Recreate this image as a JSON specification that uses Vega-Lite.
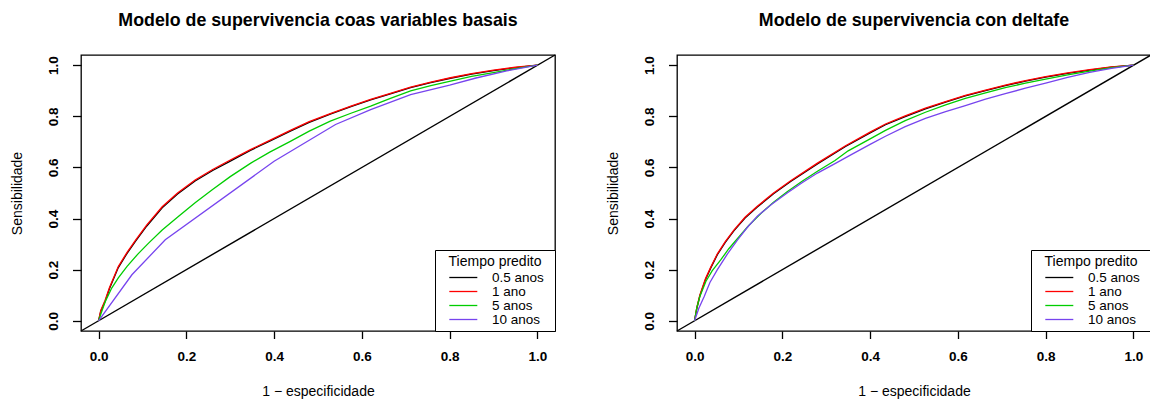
{
  "$schema": "https://vega.github.io/schema/vega-lite/v6.json",
  "background": "white",
  "padding": {"left": 9, "top": 11, "right": 0, "bottom": 0},
  "config": {
    "view": {"stroke": "black", "strokeWidth": 1.3},
    "font": "Liberation Sans",
    "title": {"font": "Liberation Sans", "fontSize": 17.8, "fontWeight": "bold", "color": "black", "offset": 22.5, "anchor": "middle"},
    "axis": {"domain": false, "grid": false, "tickColor": "black", "tickWidth": 1.3,
      "labelFont": "Liberation Sans", "labelFontSize": 13.5, "labelFontWeight": "bold", "labelColor": "black",
      "titleFont": "Liberation Sans", "titleFontSize": 14, "titleFontWeight": "normal", "titleColor": "black",
      "labelFlush": false, "labelOverlap": false},
    "axisX": {"tickSize": 7.5, "labelPadding": 10.5, "titlePadding": 21.5},
    "axisY": {"tickSize": 8.5, "labelAngle": -90, "labelPadding": 12, "titlePadding": 22},
    "legend": {"orient": "bottom-right", "offset": 0, "padding": 5, "strokeColor": "black", "fillColor": "white",
      "symbolType": "M-1,0M0.277,0H4.585M15.28,0", "symbolSize": 169, "symbolStrokeWidth": 1.3, "labelOffset": 37,
      "rowPadding": 0, "titlePadding": 1, "titleAnchor": "middle", "titleFont": "Liberation Sans", "titleFontSize": 14,
      "titleFontWeight": "normal", "titleColor": "black", "labelFont": "Liberation Sans", "labelFontSize": 13.5, "labelColor": "black", "cornerRadius": 0}
  },
  "datasets": {
    "diag": [{"x": -0.04, "y": -0.04}, {"x": 1.04, "y": 1.04}],
    "roc": [
      {"panel": "A", "tiempo": "0.5 anos", "x": 0, "y": 0},
      {"panel": "A", "tiempo": "0.5 anos", "x": 0.005, "y": 0.036},
      {"panel": "A", "tiempo": "0.5 anos", "x": 0.015, "y": 0.076},
      {"panel": "A", "tiempo": "0.5 anos", "x": 0.025, "y": 0.126},
      {"panel": "A", "tiempo": "0.5 anos", "x": 0.045, "y": 0.208},
      {"panel": "A", "tiempo": "0.5 anos", "x": 0.065, "y": 0.264},
      {"panel": "A", "tiempo": "0.5 anos", "x": 0.084, "y": 0.311},
      {"panel": "A", "tiempo": "0.5 anos", "x": 0.11, "y": 0.371},
      {"panel": "A", "tiempo": "0.5 anos", "x": 0.145, "y": 0.442},
      {"panel": "A", "tiempo": "0.5 anos", "x": 0.18, "y": 0.496},
      {"panel": "A", "tiempo": "0.5 anos", "x": 0.22, "y": 0.547},
      {"panel": "A", "tiempo": "0.5 anos", "x": 0.26, "y": 0.588},
      {"panel": "A", "tiempo": "0.5 anos", "x": 0.297, "y": 0.622},
      {"panel": "A", "tiempo": "0.5 anos", "x": 0.346, "y": 0.667},
      {"panel": "A", "tiempo": "0.5 anos", "x": 0.39, "y": 0.703},
      {"panel": "A", "tiempo": "0.5 anos", "x": 0.437, "y": 0.742},
      {"panel": "A", "tiempo": "0.5 anos", "x": 0.48, "y": 0.776},
      {"panel": "A", "tiempo": "0.5 anos", "x": 0.528, "y": 0.809},
      {"panel": "A", "tiempo": "0.5 anos", "x": 0.575, "y": 0.838},
      {"panel": "A", "tiempo": "0.5 anos", "x": 0.62, "y": 0.864},
      {"panel": "A", "tiempo": "0.5 anos", "x": 0.665, "y": 0.888},
      {"panel": "A", "tiempo": "0.5 anos", "x": 0.711, "y": 0.912},
      {"panel": "A", "tiempo": "0.5 anos", "x": 0.757, "y": 0.932},
      {"panel": "A", "tiempo": "0.5 anos", "x": 0.802, "y": 0.949},
      {"panel": "A", "tiempo": "0.5 anos", "x": 0.85, "y": 0.965},
      {"panel": "A", "tiempo": "0.5 anos", "x": 0.9, "y": 0.979},
      {"panel": "A", "tiempo": "0.5 anos", "x": 0.95, "y": 0.991},
      {"panel": "A", "tiempo": "0.5 anos", "x": 1, "y": 1},

      {"panel": "A", "tiempo": "1 ano", "x": 0, "y": 0},
      {"panel": "A", "tiempo": "1 ano", "x": 0.005, "y": 0.04},
      {"panel": "A", "tiempo": "1 ano", "x": 0.015, "y": 0.08},
      {"panel": "A", "tiempo": "1 ano", "x": 0.025, "y": 0.13},
      {"panel": "A", "tiempo": "1 ano", "x": 0.045, "y": 0.212},
      {"panel": "A", "tiempo": "1 ano", "x": 0.065, "y": 0.268},
      {"panel": "A", "tiempo": "1 ano", "x": 0.084, "y": 0.315},
      {"panel": "A", "tiempo": "1 ano", "x": 0.11, "y": 0.375},
      {"panel": "A", "tiempo": "1 ano", "x": 0.145, "y": 0.446},
      {"panel": "A", "tiempo": "1 ano", "x": 0.18, "y": 0.5},
      {"panel": "A", "tiempo": "1 ano", "x": 0.22, "y": 0.551},
      {"panel": "A", "tiempo": "1 ano", "x": 0.26, "y": 0.592},
      {"panel": "A", "tiempo": "1 ano", "x": 0.297, "y": 0.626},
      {"panel": "A", "tiempo": "1 ano", "x": 0.346, "y": 0.67},
      {"panel": "A", "tiempo": "1 ano", "x": 0.39, "y": 0.706},
      {"panel": "A", "tiempo": "1 ano", "x": 0.437, "y": 0.745},
      {"panel": "A", "tiempo": "1 ano", "x": 0.48, "y": 0.779},
      {"panel": "A", "tiempo": "1 ano", "x": 0.528, "y": 0.811},
      {"panel": "A", "tiempo": "1 ano", "x": 0.575, "y": 0.84},
      {"panel": "A", "tiempo": "1 ano", "x": 0.62, "y": 0.866},
      {"panel": "A", "tiempo": "1 ano", "x": 0.665, "y": 0.89},
      {"panel": "A", "tiempo": "1 ano", "x": 0.711, "y": 0.914},
      {"panel": "A", "tiempo": "1 ano", "x": 0.757, "y": 0.934},
      {"panel": "A", "tiempo": "1 ano", "x": 0.802, "y": 0.951},
      {"panel": "A", "tiempo": "1 ano", "x": 0.85, "y": 0.967},
      {"panel": "A", "tiempo": "1 ano", "x": 0.9, "y": 0.981},
      {"panel": "A", "tiempo": "1 ano", "x": 0.95, "y": 0.992},
      {"panel": "A", "tiempo": "1 ano", "x": 1, "y": 1},

      {"panel": "A", "tiempo": "5 anos", "x": 0, "y": 0},
      {"panel": "A", "tiempo": "5 anos", "x": 0.008, "y": 0.04},
      {"panel": "A", "tiempo": "5 anos", "x": 0.016, "y": 0.078},
      {"panel": "A", "tiempo": "5 anos", "x": 0.03, "y": 0.128},
      {"panel": "A", "tiempo": "5 anos", "x": 0.045, "y": 0.168},
      {"panel": "A", "tiempo": "5 anos", "x": 0.065, "y": 0.213},
      {"panel": "A", "tiempo": "5 anos", "x": 0.09, "y": 0.262},
      {"panel": "A", "tiempo": "5 anos", "x": 0.114, "y": 0.304},
      {"panel": "A", "tiempo": "5 anos", "x": 0.145, "y": 0.355},
      {"panel": "A", "tiempo": "5 anos", "x": 0.1825, "y": 0.409},
      {"panel": "A", "tiempo": "5 anos", "x": 0.22, "y": 0.462},
      {"panel": "A", "tiempo": "5 anos", "x": 0.259, "y": 0.513},
      {"panel": "A", "tiempo": "5 anos", "x": 0.3, "y": 0.564},
      {"panel": "A", "tiempo": "5 anos", "x": 0.346, "y": 0.616},
      {"panel": "A", "tiempo": "5 anos", "x": 0.39, "y": 0.66},
      {"panel": "A", "tiempo": "5 anos", "x": 0.437, "y": 0.702},
      {"panel": "A", "tiempo": "5 anos", "x": 0.48, "y": 0.742},
      {"panel": "A", "tiempo": "5 anos", "x": 0.528, "y": 0.781},
      {"panel": "A", "tiempo": "5 anos", "x": 0.575, "y": 0.812},
      {"panel": "A", "tiempo": "5 anos", "x": 0.62, "y": 0.84},
      {"panel": "A", "tiempo": "5 anos", "x": 0.665, "y": 0.87},
      {"panel": "A", "tiempo": "5 anos", "x": 0.711, "y": 0.9},
      {"panel": "A", "tiempo": "5 anos", "x": 0.757, "y": 0.92},
      {"panel": "A", "tiempo": "5 anos", "x": 0.802, "y": 0.938},
      {"panel": "A", "tiempo": "5 anos", "x": 0.85, "y": 0.956},
      {"panel": "A", "tiempo": "5 anos", "x": 0.916, "y": 0.976},
      {"panel": "A", "tiempo": "5 anos", "x": 0.96, "y": 0.99},
      {"panel": "A", "tiempo": "5 anos", "x": 1, "y": 1},

      {"panel": "A", "tiempo": "10 anos", "x": 0, "y": 0},
      {"panel": "A", "tiempo": "10 anos", "x": 0.076, "y": 0.18},
      {"panel": "A", "tiempo": "10 anos", "x": 0.152, "y": 0.317},
      {"panel": "A", "tiempo": "10 anos", "x": 0.4, "y": 0.624},
      {"panel": "A", "tiempo": "10 anos", "x": 0.54, "y": 0.768},
      {"panel": "A", "tiempo": "10 anos", "x": 0.62, "y": 0.826},
      {"panel": "A", "tiempo": "10 anos", "x": 0.711, "y": 0.885},
      {"panel": "A", "tiempo": "10 anos", "x": 0.8, "y": 0.922},
      {"panel": "A", "tiempo": "10 anos", "x": 0.86, "y": 0.95},
      {"panel": "A", "tiempo": "10 anos", "x": 0.93, "y": 0.978},
      {"panel": "A", "tiempo": "10 anos", "x": 1, "y": 1},

      {"panel": "B", "tiempo": "0.5 anos", "x": 0, "y": 0},
      {"panel": "B", "tiempo": "0.5 anos", "x": 0.005, "y": 0.047},
      {"panel": "B", "tiempo": "0.5 anos", "x": 0.012, "y": 0.097},
      {"panel": "B", "tiempo": "0.5 anos", "x": 0.025, "y": 0.162},
      {"panel": "B", "tiempo": "0.5 anos", "x": 0.037, "y": 0.207},
      {"panel": "B", "tiempo": "0.5 anos", "x": 0.052, "y": 0.259},
      {"panel": "B", "tiempo": "0.5 anos", "x": 0.07, "y": 0.307},
      {"panel": "B", "tiempo": "0.5 anos", "x": 0.09, "y": 0.353},
      {"panel": "B", "tiempo": "0.5 anos", "x": 0.115, "y": 0.402},
      {"panel": "B", "tiempo": "0.5 anos", "x": 0.143, "y": 0.445},
      {"panel": "B", "tiempo": "0.5 anos", "x": 0.18, "y": 0.497},
      {"panel": "B", "tiempo": "0.5 anos", "x": 0.219, "y": 0.545},
      {"panel": "B", "tiempo": "0.5 anos", "x": 0.28, "y": 0.614},
      {"panel": "B", "tiempo": "0.5 anos", "x": 0.344, "y": 0.682},
      {"panel": "B", "tiempo": "0.5 anos", "x": 0.4, "y": 0.735},
      {"panel": "B", "tiempo": "0.5 anos", "x": 0.435, "y": 0.767},
      {"panel": "B", "tiempo": "0.5 anos", "x": 0.48, "y": 0.799},
      {"panel": "B", "tiempo": "0.5 anos", "x": 0.526, "y": 0.829},
      {"panel": "B", "tiempo": "0.5 anos", "x": 0.572, "y": 0.856},
      {"panel": "B", "tiempo": "0.5 anos", "x": 0.617, "y": 0.88},
      {"panel": "B", "tiempo": "0.5 anos", "x": 0.663, "y": 0.901},
      {"panel": "B", "tiempo": "0.5 anos", "x": 0.708, "y": 0.92},
      {"panel": "B", "tiempo": "0.5 anos", "x": 0.754, "y": 0.938},
      {"panel": "B", "tiempo": "0.5 anos", "x": 0.8, "y": 0.953},
      {"panel": "B", "tiempo": "0.5 anos", "x": 0.85, "y": 0.968},
      {"panel": "B", "tiempo": "0.5 anos", "x": 0.9, "y": 0.981},
      {"panel": "B", "tiempo": "0.5 anos", "x": 0.95, "y": 0.992},
      {"panel": "B", "tiempo": "0.5 anos", "x": 1, "y": 1},

      {"panel": "B", "tiempo": "1 ano", "x": 0, "y": 0},
      {"panel": "B", "tiempo": "1 ano", "x": 0.005, "y": 0.05},
      {"panel": "B", "tiempo": "1 ano", "x": 0.012, "y": 0.1},
      {"panel": "B", "tiempo": "1 ano", "x": 0.025, "y": 0.165},
      {"panel": "B", "tiempo": "1 ano", "x": 0.037, "y": 0.21},
      {"panel": "B", "tiempo": "1 ano", "x": 0.052, "y": 0.262},
      {"panel": "B", "tiempo": "1 ano", "x": 0.07, "y": 0.31},
      {"panel": "B", "tiempo": "1 ano", "x": 0.09, "y": 0.356},
      {"panel": "B", "tiempo": "1 ano", "x": 0.115, "y": 0.405},
      {"panel": "B", "tiempo": "1 ano", "x": 0.143, "y": 0.448},
      {"panel": "B", "tiempo": "1 ano", "x": 0.18, "y": 0.5},
      {"panel": "B", "tiempo": "1 ano", "x": 0.219, "y": 0.548},
      {"panel": "B", "tiempo": "1 ano", "x": 0.28, "y": 0.617},
      {"panel": "B", "tiempo": "1 ano", "x": 0.344, "y": 0.685},
      {"panel": "B", "tiempo": "1 ano", "x": 0.4, "y": 0.738},
      {"panel": "B", "tiempo": "1 ano", "x": 0.435, "y": 0.77},
      {"panel": "B", "tiempo": "1 ano", "x": 0.48, "y": 0.802},
      {"panel": "B", "tiempo": "1 ano", "x": 0.526, "y": 0.832},
      {"panel": "B", "tiempo": "1 ano", "x": 0.572, "y": 0.858},
      {"panel": "B", "tiempo": "1 ano", "x": 0.617, "y": 0.882},
      {"panel": "B", "tiempo": "1 ano", "x": 0.663, "y": 0.903},
      {"panel": "B", "tiempo": "1 ano", "x": 0.708, "y": 0.922},
      {"panel": "B", "tiempo": "1 ano", "x": 0.754, "y": 0.94},
      {"panel": "B", "tiempo": "1 ano", "x": 0.8, "y": 0.955},
      {"panel": "B", "tiempo": "1 ano", "x": 0.85, "y": 0.97},
      {"panel": "B", "tiempo": "1 ano", "x": 0.9, "y": 0.983},
      {"panel": "B", "tiempo": "1 ano", "x": 0.95, "y": 0.993},
      {"panel": "B", "tiempo": "1 ano", "x": 1, "y": 1},

      {"panel": "B", "tiempo": "5 anos", "x": 0, "y": 0},
      {"panel": "B", "tiempo": "5 anos", "x": 0.005, "y": 0.05},
      {"panel": "B", "tiempo": "5 anos", "x": 0.012, "y": 0.095},
      {"panel": "B", "tiempo": "5 anos", "x": 0.026, "y": 0.155},
      {"panel": "B", "tiempo": "5 anos", "x": 0.04, "y": 0.195},
      {"panel": "B", "tiempo": "5 anos", "x": 0.06, "y": 0.239},
      {"panel": "B", "tiempo": "5 anos", "x": 0.078, "y": 0.282},
      {"panel": "B", "tiempo": "5 anos", "x": 0.098, "y": 0.322},
      {"panel": "B", "tiempo": "5 anos", "x": 0.123, "y": 0.372},
      {"panel": "B", "tiempo": "5 anos", "x": 0.151, "y": 0.42},
      {"panel": "B", "tiempo": "5 anos", "x": 0.18, "y": 0.464},
      {"panel": "B", "tiempo": "5 anos", "x": 0.211, "y": 0.505},
      {"panel": "B", "tiempo": "5 anos", "x": 0.245, "y": 0.546},
      {"panel": "B", "tiempo": "5 anos", "x": 0.28, "y": 0.585},
      {"panel": "B", "tiempo": "5 anos", "x": 0.32, "y": 0.627},
      {"panel": "B", "tiempo": "5 anos", "x": 0.35, "y": 0.665},
      {"panel": "B", "tiempo": "5 anos", "x": 0.4, "y": 0.712},
      {"panel": "B", "tiempo": "5 anos", "x": 0.435, "y": 0.745},
      {"panel": "B", "tiempo": "5 anos", "x": 0.48, "y": 0.783},
      {"panel": "B", "tiempo": "5 anos", "x": 0.526, "y": 0.816},
      {"panel": "B", "tiempo": "5 anos", "x": 0.572, "y": 0.845},
      {"panel": "B", "tiempo": "5 anos", "x": 0.617, "y": 0.87},
      {"panel": "B", "tiempo": "5 anos", "x": 0.663, "y": 0.892},
      {"panel": "B", "tiempo": "5 anos", "x": 0.708, "y": 0.912},
      {"panel": "B", "tiempo": "5 anos", "x": 0.754, "y": 0.93},
      {"panel": "B", "tiempo": "5 anos", "x": 0.8, "y": 0.946},
      {"panel": "B", "tiempo": "5 anos", "x": 0.85, "y": 0.962},
      {"panel": "B", "tiempo": "5 anos", "x": 0.9, "y": 0.977},
      {"panel": "B", "tiempo": "5 anos", "x": 0.95, "y": 0.991},
      {"panel": "B", "tiempo": "5 anos", "x": 1, "y": 1},

      {"panel": "B", "tiempo": "10 anos", "x": 0, "y": 0},
      {"panel": "B", "tiempo": "10 anos", "x": 0.01, "y": 0.05},
      {"panel": "B", "tiempo": "10 anos", "x": 0.022, "y": 0.095},
      {"panel": "B", "tiempo": "10 anos", "x": 0.035, "y": 0.15},
      {"panel": "B", "tiempo": "10 anos", "x": 0.052, "y": 0.2},
      {"panel": "B", "tiempo": "10 anos", "x": 0.075, "y": 0.262},
      {"panel": "B", "tiempo": "10 anos", "x": 0.098, "y": 0.317},
      {"panel": "B", "tiempo": "10 anos", "x": 0.12, "y": 0.365},
      {"panel": "B", "tiempo": "10 anos", "x": 0.143, "y": 0.409},
      {"panel": "B", "tiempo": "10 anos", "x": 0.175, "y": 0.455},
      {"panel": "B", "tiempo": "10 anos", "x": 0.211, "y": 0.5},
      {"panel": "B", "tiempo": "10 anos", "x": 0.245, "y": 0.54},
      {"panel": "B", "tiempo": "10 anos", "x": 0.28, "y": 0.578},
      {"panel": "B", "tiempo": "10 anos", "x": 0.32, "y": 0.615},
      {"panel": "B", "tiempo": "10 anos", "x": 0.355, "y": 0.648},
      {"panel": "B", "tiempo": "10 anos", "x": 0.4, "y": 0.69},
      {"panel": "B", "tiempo": "10 anos", "x": 0.435, "y": 0.722},
      {"panel": "B", "tiempo": "10 anos", "x": 0.48, "y": 0.76},
      {"panel": "B", "tiempo": "10 anos", "x": 0.526, "y": 0.792},
      {"panel": "B", "tiempo": "10 anos", "x": 0.572, "y": 0.818},
      {"panel": "B", "tiempo": "10 anos", "x": 0.617, "y": 0.842},
      {"panel": "B", "tiempo": "10 anos", "x": 0.663, "y": 0.867},
      {"panel": "B", "tiempo": "10 anos", "x": 0.708, "y": 0.889},
      {"panel": "B", "tiempo": "10 anos", "x": 0.754, "y": 0.91},
      {"panel": "B", "tiempo": "10 anos", "x": 0.8, "y": 0.93},
      {"panel": "B", "tiempo": "10 anos", "x": 0.85, "y": 0.952},
      {"panel": "B", "tiempo": "10 anos", "x": 0.9, "y": 0.972},
      {"panel": "B", "tiempo": "10 anos", "x": 0.95, "y": 0.988},
      {"panel": "B", "tiempo": "10 anos", "x": 1, "y": 1}
    ]
  },
  "spacing": 122,
  "bounds": "flush",
  "resolve": {"scale": {"color": "independent"}, "legend": {"color": "independent"}},
  "hconcat": [
    {
      "title": "Modelo de supervivencia coas variables basais",
      "width": 474,
      "height": 276,
      "layer": [
        {
          "data": {"name": "diag"},
          "mark": {"type": "line", "color": "black", "strokeWidth": 1.4},
          "encoding": {
            "x": {"field": "x", "type": "quantitative", "scale": {"domain": [-0.04, 1.04], "nice": false, "zero": false}, "axis": {"values": [0, 0.2, 0.4, 0.6, 0.8, 1], "format": ".1f", "title": "1 − especificidade"}},
            "y": {"field": "y", "type": "quantitative", "scale": {"domain": [-0.04, 1.04], "nice": false, "zero": false}, "axis": {"values": [0, 0.2, 0.4, 0.6, 0.8, 1], "format": ".1f", "title": "Sensibilidade"}}
          }
        },
        {
          "data": {"name": "roc"},
          "transform": [{"filter": "datum.panel == 'A'"}],
          "mark": {"type": "line", "strokeWidth": 1.3},
          "encoding": {
            "x": {"field": "x", "type": "quantitative"},
            "y": {"field": "y", "type": "quantitative"},
            "color": {"field": "tiempo", "type": "nominal",
              "scale": {"domain": ["0.5 anos", "1 ano", "5 anos", "10 anos"], "range": ["#000000", "#FF0000", "#00CD00", "#7744EE"]},
              "legend": {"title": "Tiempo predito"}}
          }
        }
      ]
    },
    {
      "title": "Modelo de supervivencia con deltafe",
      "width": 474,
      "height": 276,
      "layer": [
        {
          "data": {"name": "diag"},
          "mark": {"type": "line", "color": "black", "strokeWidth": 1.4},
          "encoding": {
            "x": {"field": "x", "type": "quantitative", "scale": {"domain": [-0.04, 1.04], "nice": false, "zero": false}, "axis": {"values": [0, 0.2, 0.4, 0.6, 0.8, 1], "format": ".1f", "title": "1 − especificidade"}},
            "y": {"field": "y", "type": "quantitative", "scale": {"domain": [-0.04, 1.04], "nice": false, "zero": false}, "axis": {"values": [0, 0.2, 0.4, 0.6, 0.8, 1], "format": ".1f", "title": "Sensibilidade"}}
          }
        },
        {
          "data": {"name": "roc"},
          "transform": [{"filter": "datum.panel == 'B'"}],
          "mark": {"type": "line", "strokeWidth": 1.3},
          "encoding": {
            "x": {"field": "x", "type": "quantitative"},
            "y": {"field": "y", "type": "quantitative"},
            "color": {"field": "tiempo", "type": "nominal",
              "scale": {"domain": ["0.5 anos", "1 ano", "5 anos", "10 anos"], "range": ["#000000", "#FF0000", "#00CD00", "#7744EE"]},
              "legend": {"title": "Tiempo predito"}}
          }
        }
      ]
    }
  ]
}
